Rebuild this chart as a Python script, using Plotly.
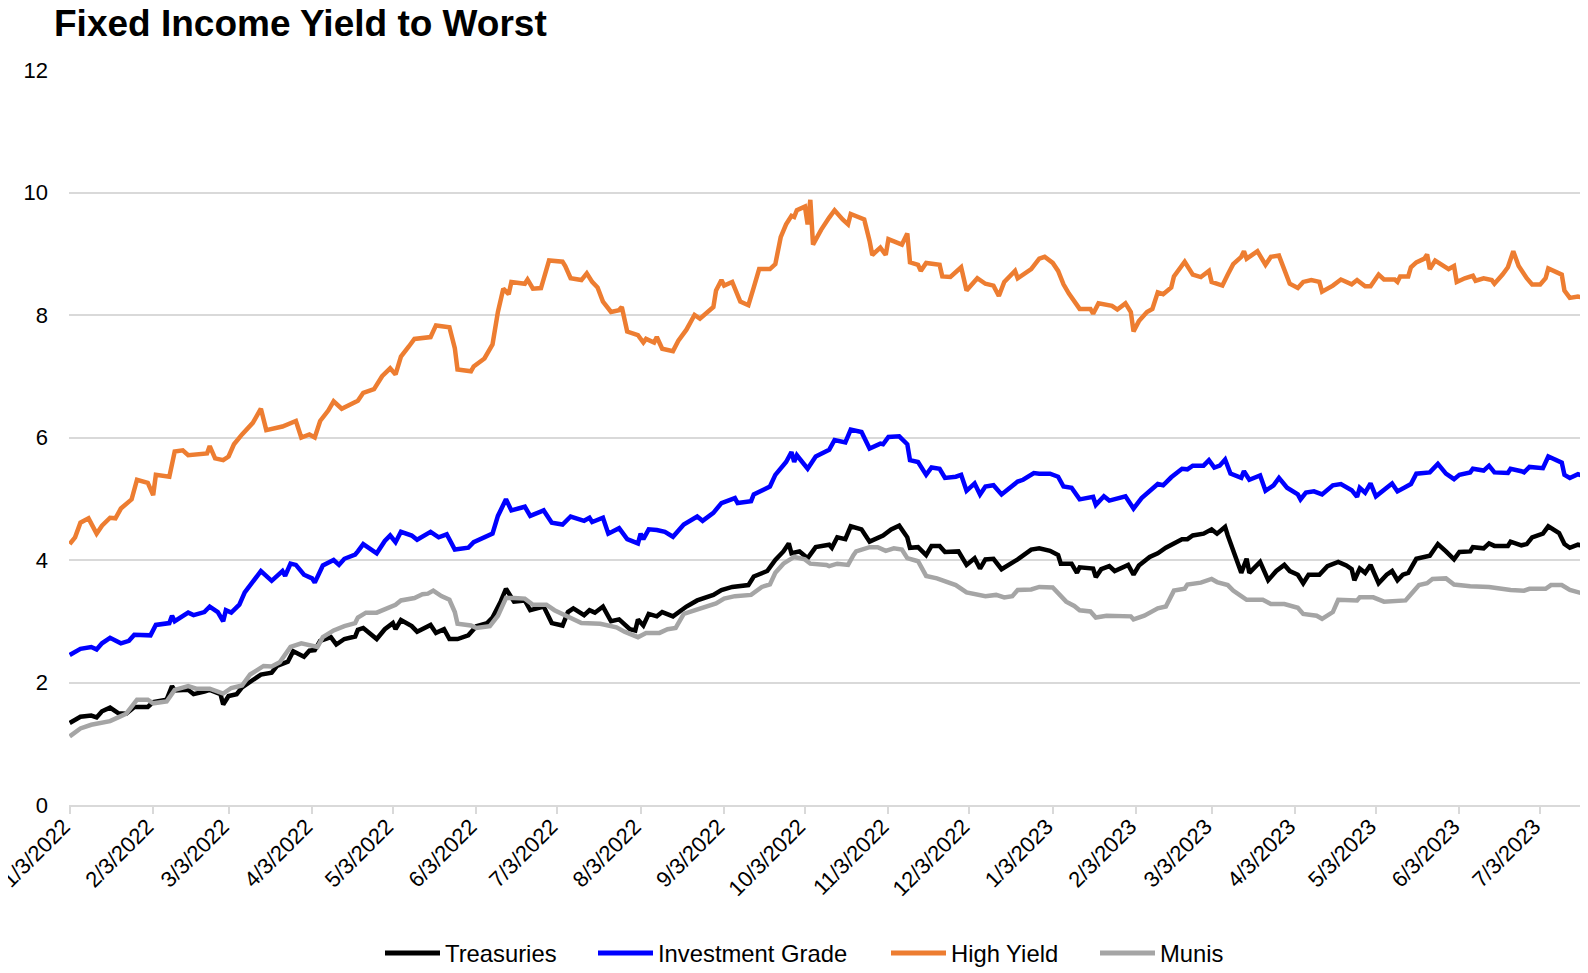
import pandas as pd
import plotly.graph_objects as go

# days counted from 1/3/2022 (yield to worst, %)
start = pd.Timestamp("2022-01-03")

tsy_days = [0, 4, 8, 10, 12, 15, 18, 21, 24, 29, 31, 36, 38, 39, 44, 46, 50, 52, 56, 57, 59, 62, 64, 68, 71, 75, 77, 81, 83, 87, 89, 91, 93, 97, 99, 102, 106, 107, 109, 114, 117, 120, 121, 123, 127, 129, 131, 134, 136, 139, 141, 144, 148, 151, 155, 157, 160, 162, 165, 169, 171, 176, 179, 183, 185, 187, 191, 193, 195, 198, 201, 204, 208, 210, 211, 213, 215, 218, 220, 224, 229, 233, 239, 242, 246, 252, 254, 259, 262, 265, 267, 268, 271, 274, 277, 282, 283, 285, 288, 290, 294, 297, 302, 305, 308, 311, 312, 315, 318, 320, 323, 325, 330, 333, 336, 338, 340, 343, 346, 349, 352, 357, 360, 364, 367, 368, 372, 374, 375, 380, 381, 383, 386, 388, 393, 395, 397, 401, 404, 407, 410, 413, 415, 417, 421, 424, 426, 429, 430, 432, 433, 435, 437, 438, 442, 445, 448, 451, 453, 456, 458, 460, 464, 467, 471, 474, 476, 477, 479, 481, 483, 486, 489, 491, 493, 495, 497, 500, 505, 508, 511, 514, 516, 520, 521, 525, 527, 529, 534, 535, 539, 541, 543, 547, 549, 553, 555, 557, 560, 563]
tsy_vals = [1.34, 1.44, 1.46, 1.43, 1.53, 1.59, 1.50, 1.49, 1.60, 1.60, 1.68, 1.72, 1.94, 1.87, 1.88, 1.81, 1.85, 1.88, 1.81, 1.64, 1.78, 1.81, 1.92, 2.05, 2.13, 2.16, 2.27, 2.34, 2.51, 2.42, 2.52, 2.53, 2.68, 2.74, 2.62, 2.71, 2.75, 2.86, 2.89, 2.71, 2.87, 2.97, 2.87, 3.02, 2.92, 2.83, 2.87, 2.94, 2.81, 2.87, 2.71, 2.71, 2.77, 2.92, 2.97, 3.06, 3.32, 3.53, 3.32, 3.34, 3.18, 3.24, 2.97, 2.93, 3.15, 3.21, 3.10, 3.18, 3.14, 3.24, 3.00, 3.03, 2.87, 2.85, 3.03, 2.93, 3.12, 3.08, 3.15, 3.08, 3.24, 3.34, 3.43, 3.51, 3.56, 3.59, 3.73, 3.82, 4.00, 4.14, 4.27, 4.11, 4.14, 4.03, 4.21, 4.25, 4.20, 4.37, 4.34, 4.55, 4.50, 4.30, 4.40, 4.50, 4.56, 4.37, 4.20, 4.21, 4.08, 4.23, 4.23, 4.13, 4.14, 3.92, 4.03, 3.86, 4.01, 4.02, 3.85, 3.92, 4.01, 4.17, 4.19, 4.15, 4.08, 3.94, 3.94, 3.79, 3.88, 3.86, 3.72, 3.85, 3.90, 3.82, 3.92, 3.76, 3.91, 4.05, 4.11, 4.20, 4.26, 4.34, 4.34, 4.40, 4.43, 4.50, 4.43, 4.54, 4.40, 4.14, 4.00, 3.79, 4.02, 3.79, 3.97, 3.67, 3.82, 3.92, 3.82, 3.76, 3.62, 3.76, 3.76, 3.90, 3.97, 3.91, 3.85, 3.67, 3.86, 3.79, 3.92, 3.62, 3.76, 3.82, 3.67, 3.76, 3.79, 4.02, 4.07, 4.26, 4.14, 4.01, 4.13, 4.14, 4.21, 4.19, 4.27, 4.23, 4.23, 4.30, 4.24, 4.26, 4.37, 4.43, 4.55, 4.44, 4.26, 4.20, 4.25, 4.22]

ig_days = [0, 4, 8, 10, 12, 15, 19, 22, 24, 30, 32, 37, 38, 39, 44, 46, 50, 52, 55, 57, 58, 60, 63, 65, 71, 75, 79, 80, 82, 84, 87, 90, 91, 94, 98, 100, 102, 106, 107, 109, 114, 117, 119, 121, 123, 127, 129, 131, 134, 137, 140, 143, 148, 150, 154, 157, 159, 162, 164, 169, 171, 176, 179, 183, 186, 191, 193, 194, 198, 200, 204, 207, 211, 212, 213, 215, 218, 221, 224, 228, 233, 235, 239, 242, 247, 248, 253, 254, 260, 262, 266, 268, 269, 270, 274, 277, 282, 284, 288, 290, 294, 297, 301, 302, 304, 308, 311, 312, 315, 318, 320, 323, 325, 329, 331, 333, 336, 338, 340, 343, 346, 349, 352, 354, 358, 360, 364, 367, 369, 372, 375, 380, 381, 384, 386, 392, 395, 398, 401, 404, 406, 409, 413, 415, 417, 421, 423, 425, 427, 429, 431, 435, 436, 438, 442, 444, 447, 449, 452, 456, 457, 459, 462, 465, 469, 472, 476, 478, 479, 481, 483, 485, 491, 493, 498, 500, 505, 508, 511, 514, 516, 520, 521, 525, 527, 529, 534, 535, 539, 540, 542, 547, 549, 554, 555, 557, 560, 563]
ig_vals = [2.45, 2.55, 2.58, 2.54, 2.64, 2.73, 2.64, 2.68, 2.78, 2.77, 2.94, 2.97, 3.09, 3.00, 3.14, 3.10, 3.15, 3.24, 3.15, 3.00, 3.18, 3.14, 3.27, 3.47, 3.82, 3.66, 3.82, 3.74, 3.94, 3.92, 3.76, 3.70, 3.63, 3.91, 4.00, 3.92, 4.02, 4.09, 4.14, 4.26, 4.11, 4.31, 4.40, 4.29, 4.46, 4.40, 4.33, 4.38, 4.46, 4.37, 4.42, 4.17, 4.20, 4.29, 4.37, 4.43, 4.72, 4.99, 4.81, 4.87, 4.72, 4.81, 4.61, 4.58, 4.71, 4.64, 4.69, 4.62, 4.69, 4.43, 4.52, 4.34, 4.27, 4.43, 4.34, 4.50, 4.49, 4.46, 4.38, 4.58, 4.71, 4.64, 4.77, 4.93, 5.01, 4.93, 4.96, 5.07, 5.20, 5.39, 5.60, 5.76, 5.60, 5.71, 5.49, 5.69, 5.80, 5.96, 5.92, 6.13, 6.09, 5.82, 5.90, 5.89, 6.01, 6.02, 5.89, 5.63, 5.60, 5.39, 5.51, 5.49, 5.34, 5.36, 5.39, 5.13, 5.25, 5.07, 5.20, 5.22, 5.07, 5.18, 5.28, 5.31, 5.42, 5.41, 5.41, 5.36, 5.20, 5.18, 4.99, 5.03, 4.90, 5.04, 4.97, 5.04, 4.84, 5.01, 5.12, 5.24, 5.22, 5.35, 5.49, 5.48, 5.54, 5.54, 5.63, 5.51, 5.54, 5.64, 5.41, 5.34, 5.45, 5.31, 5.38, 5.13, 5.22, 5.34, 5.18, 5.07, 4.99, 5.10, 5.12, 5.07, 5.22, 5.24, 5.14, 5.03, 5.18, 5.10, 5.25, 5.04, 5.25, 5.12, 5.24, 5.41, 5.43, 5.57, 5.41, 5.32, 5.39, 5.43, 5.49, 5.46, 5.54, 5.43, 5.42, 5.49, 5.45, 5.43, 5.52, 5.50, 5.69, 5.59, 5.39, 5.34, 5.40, 5.36]

hy_days = [0, 2, 4, 7, 10, 12, 15, 17, 19, 23, 25, 29, 31, 32, 37, 39, 42, 44, 51, 52, 54, 57, 59, 61, 64, 68, 71, 73, 79, 84, 86, 89, 91, 93, 96, 98, 101, 104, 107, 109, 113, 116, 119, 121, 123, 126, 128, 134, 136, 141, 143, 144, 149, 150, 152, 154, 157, 159, 161, 163, 164, 169, 170, 172, 175, 178, 183, 184, 186, 190, 192, 194, 196, 198, 201, 204, 205, 207, 211, 213, 214, 217, 218, 220, 224, 226, 229, 232, 234, 239, 240, 242, 243, 246, 249, 252, 254, 256, 260, 262, 264, 266, 268, 269, 270, 273, 274, 275, 276, 279, 282, 284, 287, 289, 290, 295, 297, 298, 301, 303, 304, 309, 311, 312, 315, 316, 318, 323, 324, 327, 331, 333, 337, 340, 343, 345, 347, 351, 352, 357, 360, 362, 365, 367, 369, 371, 375, 379, 380, 382, 387, 389, 392, 394, 395, 397, 400, 402, 404, 406, 409, 410, 414, 417, 420, 423, 424, 428, 430, 432, 435, 436, 437, 441, 444, 446, 449, 453, 456, 458, 461, 464, 465, 469, 472, 476, 478, 481, 483, 486, 488, 492, 493, 494, 497, 498, 500, 503, 504, 505, 507, 511, 512, 514, 515, 518, 521, 522, 525, 528, 529, 532, 534, 536, 538, 541, 543, 546, 548, 549, 552, 554, 555, 557, 560, 563]
hy_vals = [4.26, 4.37, 4.61, 4.68, 4.43, 4.56, 4.69, 4.68, 4.84, 4.99, 5.31, 5.26, 5.06, 5.39, 5.36, 5.77, 5.79, 5.71, 5.74, 5.86, 5.66, 5.63, 5.69, 5.89, 6.05, 6.24, 6.47, 6.12, 6.18, 6.27, 6.00, 6.05, 6.00, 6.27, 6.44, 6.59, 6.47, 6.53, 6.60, 6.73, 6.79, 7.00, 7.13, 7.03, 7.32, 7.49, 7.61, 7.64, 7.83, 7.80, 7.46, 7.11, 7.08, 7.16, 7.23, 7.29, 7.52, 8.05, 8.43, 8.34, 8.54, 8.51, 8.58, 8.43, 8.44, 8.89, 8.87, 8.80, 8.60, 8.57, 8.68, 8.54, 8.45, 8.22, 8.05, 8.08, 8.13, 7.73, 7.67, 7.55, 7.61, 7.55, 7.64, 7.45, 7.41, 7.58, 7.76, 8.00, 7.94, 8.13, 8.40, 8.57, 8.48, 8.54, 8.22, 8.16, 8.45, 8.75, 8.75, 8.83, 9.27, 9.48, 9.62, 9.60, 9.71, 9.77, 9.48, 9.88, 9.15, 9.39, 9.59, 9.71, 9.56, 9.48, 9.65, 9.56, 9.21, 8.98, 9.10, 8.98, 9.24, 9.15, 9.33, 8.86, 8.82, 8.72, 8.85, 8.82, 8.63, 8.62, 8.78, 8.40, 8.60, 8.51, 8.48, 8.31, 8.54, 8.72, 8.60, 8.75, 8.92, 8.95, 8.85, 8.72, 8.50, 8.35, 8.10, 8.10, 8.02, 8.19, 8.15, 8.09, 8.19, 8.05, 7.73, 7.90, 8.05, 8.10, 8.37, 8.34, 8.45, 8.63, 8.87, 8.66, 8.62, 8.72, 8.54, 8.48, 8.66, 8.83, 8.95, 9.04, 8.92, 9.04, 8.82, 8.95, 8.97, 8.51, 8.44, 8.54, 8.57, 8.54, 8.38, 8.48, 8.58, 8.50, 8.57, 8.47, 8.47, 8.66, 8.58, 8.58, 8.54, 8.63, 8.63, 8.78, 8.86, 8.92, 8.99, 8.75, 8.89, 8.78, 8.75, 8.80, 8.54, 8.60, 8.64, 8.56, 8.60, 8.57, 8.51, 8.66, 8.78, 9.04, 8.80, 8.60, 8.50, 8.50, 8.60, 8.76, 8.70, 8.66, 8.40, 8.28, 8.30, 8.28]

muni_days = [0, 4, 8, 12, 15, 18, 21, 25, 29, 31, 36, 39, 44, 47, 52, 57, 60, 64, 67, 72, 75, 78, 82, 86, 89, 92, 94, 98, 102, 106, 107, 110, 114, 117, 121, 123, 128, 131, 133, 135, 138, 141, 143, 144, 149, 151, 156, 159, 162, 165, 169, 172, 177, 180, 183, 187, 190, 197, 201, 203, 206, 208, 211, 214, 219, 222, 225, 228, 232, 235, 240, 243, 247, 253, 257, 260, 262, 265, 269, 273, 275, 281, 282, 285, 289, 291, 292, 297, 300, 303, 306, 309, 311, 315, 318, 322, 326, 329, 333, 337, 340, 344, 347, 350, 352, 357, 360, 365, 368, 370, 373, 375, 379, 381, 385, 394, 395, 399, 404, 407, 410, 414, 415, 420, 424, 426, 430, 432, 435, 437, 443, 446, 451, 456, 458, 463, 465, 469, 471, 478, 479, 484, 488, 496, 498, 501, 504, 506, 511, 514, 520, 527, 535, 540, 542, 548, 550, 554, 557, 560, 563]
muni_vals = [1.12, 1.25, 1.31, 1.34, 1.37, 1.43, 1.49, 1.72, 1.72, 1.66, 1.69, 1.88, 1.94, 1.90, 1.90, 1.82, 1.91, 1.95, 2.13, 2.27, 2.26, 2.33, 2.58, 2.64, 2.61, 2.58, 2.74, 2.85, 2.92, 2.97, 3.06, 3.14, 3.14, 3.20, 3.27, 3.34, 3.38, 3.44, 3.45, 3.50, 3.41, 3.35, 3.15, 2.96, 2.93, 2.89, 2.92, 3.09, 3.38, 3.38, 3.37, 3.27, 3.27, 3.18, 3.12, 3.03, 2.97, 2.96, 2.92, 2.90, 2.83, 2.79, 2.74, 2.81, 2.81, 2.87, 2.89, 3.12, 3.18, 3.22, 3.29, 3.37, 3.41, 3.43, 3.56, 3.60, 3.79, 3.94, 4.05, 4.01, 3.94, 3.92, 3.90, 3.94, 3.92, 4.08, 4.14, 4.21, 4.21, 4.15, 4.19, 4.17, 4.03, 3.98, 3.74, 3.70, 3.64, 3.59, 3.47, 3.44, 3.41, 3.43, 3.39, 3.41, 3.51, 3.52, 3.56, 3.55, 3.40, 3.32, 3.25, 3.18, 3.16, 3.06, 3.09, 3.08, 3.03, 3.09, 3.21, 3.24, 3.50, 3.53, 3.60, 3.63, 3.69, 3.64, 3.59, 3.50, 3.41, 3.35, 3.35, 3.28, 3.28, 3.22, 3.12, 3.09, 3.04, 3.15, 3.35, 3.34, 3.39, 3.39, 3.32, 3.34, 3.44, 3.59, 3.62, 3.69, 3.70, 3.60, 3.57, 3.56, 3.51, 3.50, 3.53, 3.53, 3.59, 3.59, 3.51, 3.47, 3.44]

names = ["Treasuries", "Investment Grade", "High Yield", "Munis"]
colors = ["#000000", "#0000FF", "#ED7D31", "#A5A5A5"]

# monthly ticks on the 3rd, 1/3/2022 .. 7/3/2023
tick_dates = pd.date_range("2022-01-01", "2023-07-01", freq="MS") + pd.Timedelta(days=2)
tick_text = [f"{d.month}/{d.day}/{d.year}" for d in tick_dates]


def to_dates(days):
    return [start + pd.Timedelta(days=d) for d in days]


fig = go.Figure()
series = [(tsy_days, tsy_vals), (ig_days, ig_vals), (hy_days, hy_vals), (muni_days, muni_vals)]
for (d, v), name, col in zip(series, names, colors):
    fig.add_trace(go.Scatter(x=to_dates(d), y=v, name=name, mode="lines",
                             line=dict(color=col, width=4.5), showlegend=False))

# the page body has an 8px margin, so the figure is made 8px smaller than the window
W, H = 1580, 965
plot_l, plot_w = 61, 1517

# legend drawn by hand so the key lines are as long as in the original (Excel style)
key_left = [377, 590, 883, 1092]   # figure px where each key line starts
leg_y = -0.2014
for name, col, px in zip(names, colors, key_left):
    x0 = (px - plot_l) / plot_w
    x1 = (px + 55 - plot_l) / plot_w
    fig.add_shape(type="line", xref="paper", yref="paper", x0=x0, x1=x1, y0=leg_y, y1=leg_y,
                  line=dict(color=col, width=5))
    fig.add_annotation(xref="paper", yref="paper", x=x1 + 3 / plot_w, y=leg_y, text=name,
                       showarrow=False, xanchor="left", yanchor="middle",
                       font=dict(size=23.8, color="#000000"))

fig.update_layout(
    width=W, height=H,
    paper_bgcolor="white", plot_bgcolor="white",
    margin=dict(l=plot_l, r=W - plot_l - plot_w, t=62, b=168),
    font=dict(family="Liberation Sans, Arial, sans-serif", size=22, color="#000000"),
    title=dict(text="<b>Fixed Income Yield to Worst</b>", xref="container", x=46 / W, xanchor="left",
               y=1 - 15 / H, yanchor="middle", font=dict(size=37, color="#000000")),
    showlegend=False,
)
fig.update_xaxes(
    type="date", range=[start - pd.Timedelta(hours=6), start + pd.Timedelta(days=563)],
    tickvals=tick_dates, ticktext=tick_text, tickangle=-45, automargin=False,
    ticklabeloverflow="allow", ticklabelstandoff=-9, ticklabelshift=-6,
    showgrid=False, showline=True, linecolor="#d9d9d9", linewidth=2,
    ticks="outside", ticklen=7, tickcolor="#d9d9d9", tickwidth=2,
)
fig.update_yaxes(
    range=[0, 12], tickvals=[0, 2, 4, 6, 8, 10, 12], showgrid=True, gridcolor="#d9d9d9",
    gridwidth=1.5, zeroline=False, showline=False, ticks="", ticklabelstandoff=20,
    automargin=False,
)

fig.write_html("out.html")
